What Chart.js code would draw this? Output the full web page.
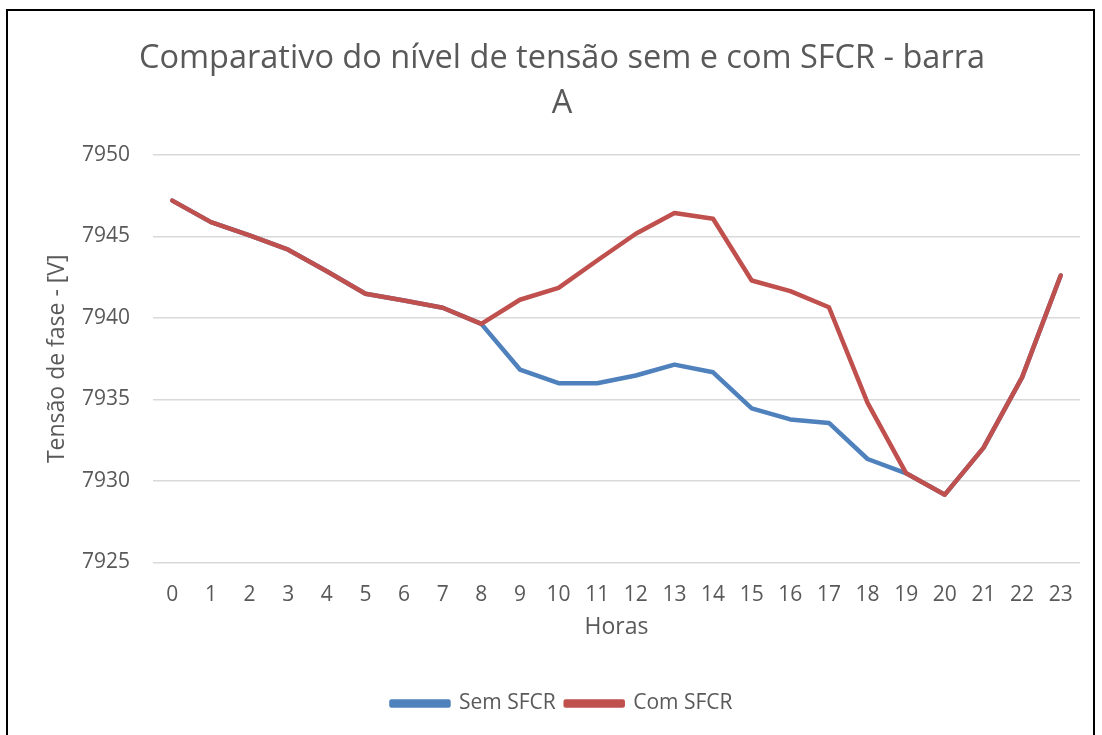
<!DOCTYPE html>
<html>
<head>
<meta charset="utf-8">
<script src="https://cdn.jsdelivr.net/npm/chart.js@4/dist/chart.umd.min.js"></script>
<style>
  html, body { margin: 0; padding: 0; background: #fff; }
  #wrap { position: relative; width: 1102px; height: 735px; overflow: hidden; }
  #frame { position: absolute; left: 6px; top: 9px; width: 1089px; height: 800px; border: 2px solid #000; box-sizing: border-box; }
  canvas { position: absolute; left: 0; top: 0; }
</style>
</head>
<body>
<div id="wrap">
  <div id="frame"></div>
  <canvas id="c" width="1102" height="735"></canvas>
</div>
<script>
const hours = ['0','1','2','3','4','5','6','7','8','9','10','11','12','13','14','15','16','17','18','19','20','21','22','23'];
const semSFCR = [7947.2, 7945.88, 7945.07, 7944.19, 7942.87, 7941.49, 7941.07, 7940.63, 7939.64, 7936.84, 7936.0, 7936.0, 7936.47, 7937.14, 7936.67, 7934.46, 7933.78, 7933.56, 7931.35, 7930.47, 7929.16, 7932.03, 7936.36, 7942.61];
const comSFCR = [7947.2, 7945.88, 7945.07, 7944.19, 7942.87, 7941.49, 7941.07, 7940.63, 7939.64, 7941.12, 7941.85, 7943.53, 7945.17, 7946.44, 7946.09, 7942.30, 7941.65, 7940.66, 7934.79, 7930.47, 7929.16, 7932.03, 7936.36, 7942.61];
const seriesNames = ['Sem SFCR', 'Com SFCR'];
const titleLines = ['Comparativo do nível de tensão sem e com SFCR - barra', 'A'];
const yTitle = 'Tensão de fase - [V]';
const xTitle = 'Horas';

const FONT = "'Open Sans', sans-serif";
const GREY = '#595959';

new Chart(document.getElementById('c'), {
  type: 'line',
  data: {
    labels: hours,
    datasets: [
      { label: seriesNames[0], data: semSFCR, borderColor: '#4F81BD', backgroundColor: '#4F81BD', borderWidth: 4.5, pointRadius: 0, tension: 0, order: 1, borderJoinStyle: 'round', borderCapStyle: 'round' },
      { label: seriesNames[1], data: comSFCR, borderColor: '#C0504D', backgroundColor: '#C0504D', borderWidth: 4.5, pointRadius: 0, tension: 0, order: 0, borderJoinStyle: 'round', borderCapStyle: 'round' }
    ]
  },
  options: {
    responsive: false,
    animation: false,
    devicePixelRatio: 1,
    layout: { padding: { left: 44, right: 22, top: 0, bottom: 11 } },
    plugins: {
      title: {
        display: true,
        text: titleLines,
        color: GREY,
        font: { family: FONT, size: 32.5, weight: 'normal', lineHeight: '45px' },
        padding: { top: 36, bottom: 29 }
      },
      legend: {
        position: 'bottom',
        labels: {
          color: GREY,
          font: { family: FONT, size: 21 },
          boxWidth: 57,
          boxHeight: 4,
          padding: 10,
          sort: (a, b) => a.datasetIndex - b.datasetIndex
        }
      },
      tooltip: { enabled: false }
    },
    scales: {
      x: {
        offset: true,
        grid: { display: false, drawTicks: false },
        border: { display: false },
        ticks: { color: GREY, font: { family: FONT, size: 21 }, padding: 20, maxRotation: 0, autoSkip: false },
        title: { display: true, text: xTitle, color: GREY, font: { family: FONT, size: 23 }, padding: { top: 0, bottom: 41.7 } },
        afterFit: (s) => { s.height = 120.5; }
      },
      y: {
        min: 7925,
        max: 7950,
        grid: { color: '#D9D9D9', lineWidth: 1.5, drawTicks: false },
        border: { display: false },
        ticks: { stepSize: 5, color: GREY, font: { family: FONT, size: 21 }, padding: 23, callback: (v) => String(v) },
        title: { display: true, text: yTitle, color: GREY, font: { family: FONT, size: 23 }, padding: { top: 0, bottom: 0 } },
        afterFit: (s) => { s.width = 109; }
      }
    }
  }
});
</script>
</body>
</html>
